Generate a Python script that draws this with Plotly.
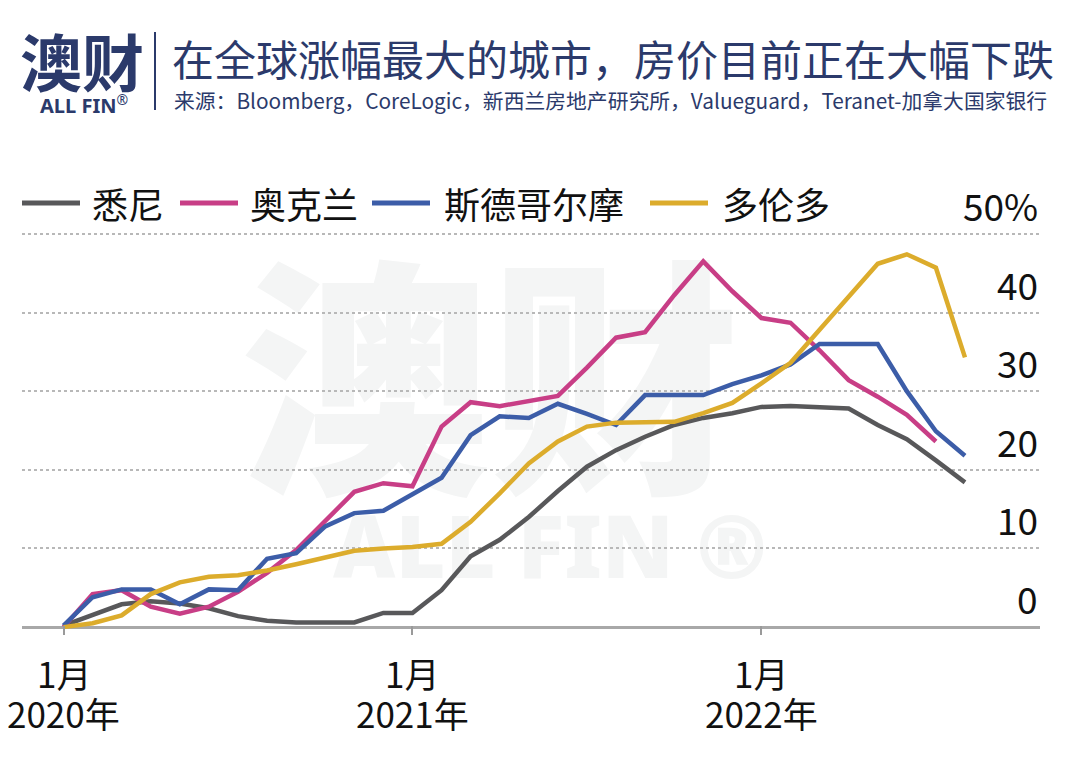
import plotly.graph_objects as go

# ---------------- data ----------------
months = list(range(32))  # month index, 0 = Jan 2020
x_tickvals = [0, 12, 24]
x_tick_month = ["1月", "1月", "1月"]
x_tick_year = ["2020年", "2021年", "2022年"]
y_tickvals = [0, 10, 20, 30, 40, 50]
y_ticktext = ["0", "10", "20", "30", "40", "50%"]

series_names = ["悉尼", "奥克兰", "斯德哥尔摩", "多伦多"]
series_colors = ["#58585a", "#c83e86", "#3c5da8", "#dcac2c"]

sydney = [0.2, 1.6, 2.9, 3.3, 3.0, 2.4, 1.4, 0.8, 0.6, 0.6, 0.6, 1.8, 1.8, 4.7, 9.0,
          11.1, 14.0, 17.3, 20.4, 22.5, 24.2, 25.7, 26.6, 27.2, 28.0, 28.1, 28.0,
          27.8, 25.7, 23.9, 21.2, 18.4]
auckland = [0.0, 4.2, 4.7, 2.6, 1.7, 2.6, 4.5, 6.9, 9.8, 13.6, 17.2, 18.3, 17.9,
            25.5, 28.6, 28.1, 28.7, 29.4, 33.0, 36.8, 37.5, 42.2, 46.5, 42.7, 39.3,
            38.7, 35.2, 31.4, 29.3, 27.0, 23.6]
stockholm = [0.2, 3.8, 4.8, 4.8, 2.9, 4.8, 4.7, 8.7, 9.4, 12.8, 14.5, 14.8, 16.9,
             19.0, 24.4, 26.8, 26.6, 28.4, 27.1, 25.7, 29.5, 29.5, 29.5, 30.9, 32.0,
             33.4, 36.0, 36.0, 36.0, 30.0, 24.9, 21.8]
toronto = [0.0, 0.5, 1.5, 4.2, 5.7, 6.4, 6.6, 7.2, 8.0, 8.8, 9.7, 10.0, 10.2, 10.6,
           13.4, 17.0, 20.8, 23.6, 25.5, 26.0, 26.0, 26.1, 27.2, 28.5, 31.0, 33.6,
           37.8, 42.0, 46.2, 47.4, 45.7, 34.3]
all_series = [sydney, auckland, stockholm, toronto]

title_text = "在全球涨幅最大的城市，房价目前正在大幅下跌"
source_text = "来源：Bloomberg，CoreLogic，新西兰房地产研究所，Valueguard，Teranet-加拿大国家银行"

# ---------------- layout helpers ----------------
OFF = 8                  # page offset of the figure (browser body margin)
W, H = 1080 - OFF, 767 - OFF
L, R = 22, 1040          # plot area left/right in page px
T, B = 226, 635          # plot area top/bottom in page px
CJK = "Noto Sans CJK SC"
NAVY = "#2b3a6b"


def px(xp):
    return (xp - L) / (R - L)


def py(yp):
    return (B - yp) / (B - T)


fig = go.Figure()

for name, vals, col in zip(series_names, all_series, series_colors):
    fig.add_trace(go.Scatter(
        x=months[:len(vals)], y=vals, mode="lines", name=name,
        line=dict(color=col, width=4.5), showlegend=False,
    ))

shapes = []
annotations = []

# watermark (drawn below the data)
shapes.append(dict(type="rect", xref="paper", yref="paper",
                   x0=px(280), x1=px(700), y0=py(548), y1=py(262),
                   line=dict(width=0), fillcolor="rgba(0,0,0,0)", layer="below",
                   label=dict(text="澳财", textposition="middle center",
                              font=dict(family=CJK, size=250, color="#f4f5f5", weight=900))))
shapes.append(dict(type="rect", xref="paper", yref="paper",
                   x0=px(340), x1=px(760), y0=py(595), y1=py(505),
                   line=dict(width=0), fillcolor="rgba(0,0,0,0)", layer="below",
                   label=dict(text="ALL FIN ®", textposition="middle center",
                              font=dict(family="Noto Sans", size=86, color="#f4f5f5", weight=900))))

# custom legend
leg = [(22, 80, 90), (180, 238, 248), (372, 430, 442), (650, 708, 720)]
for (x0, x1, xt), name, col in zip(leg, series_names, series_colors):
    shapes.append(dict(type="line", xref="paper", yref="paper",
                       x0=px(x0), x1=px(x1), y0=py(203), y1=py(203),
                       line=dict(color=col, width=5)))
    annotations.append(dict(text=name, xref="paper", yref="paper",
                            x=px(xt), y=py(203), xanchor="left", yanchor="middle",
                            showarrow=False, font=dict(family=CJK, size=36, color="#111")))

# y tick labels above gridlines, right aligned inside plot
for v, t in zip(y_tickvals, y_ticktext):
    annotations.append(dict(text=t, xref="paper", yref="y", x=1.0, y=v,
                            xanchor="right", yanchor="middle", yshift=29,
                            showarrow=False, font=dict(family=CJK, size=37, color="#111")))

# x tick labels (two lines), placed at the axis tick values
for v, m, yr in zip(x_tickvals, x_tick_month, x_tick_year):
    annotations.append(dict(text=m, xref="x", yref="paper", x=v, y=py(672),
                            xanchor="center", yanchor="middle", showarrow=False,
                            font=dict(family=CJK, size=35, color="#111")))
    annotations.append(dict(text=yr, xref="x", yref="paper", x=v, y=py(712),
                            xanchor="center", yanchor="middle", showarrow=False,
                            font=dict(family=CJK, size=35, color="#111")))

# header: logo, divider, title, source
annotations.append(dict(text="<b>澳财</b>", xref="paper", yref="paper", x=px(18), y=py(60),
                        xanchor="left", yanchor="middle", showarrow=False,
                        font=dict(family=CJK, size=62, color=NAVY, weight=900)))
annotations.append(dict(text="<b>ALL FIN</b><sup>®</sup>", xref="paper", yref="paper", x=px(38), y=py(104),
                        xanchor="left", yanchor="middle", showarrow=False,
                        font=dict(family="Noto Sans", size=20, color=NAVY)))
shapes.append(dict(type="line", xref="paper", yref="paper", x0=px(155), x1=px(155),
                   y0=py(32), y1=py(110), line=dict(color=NAVY, width=2)))
annotations.append(dict(text=title_text, xref="paper", yref="paper", x=px(170), y=py(57),
                        xanchor="left", yanchor="middle", showarrow=False,
                        font=dict(family=CJK, size=42, color=NAVY)))
annotations.append(dict(text=source_text, xref="paper", yref="paper", x=px(172), y=py(100),
                        xanchor="left", yanchor="middle", showarrow=False,
                        font=dict(family=CJK, size=20.8, color=NAVY)))

x_per_month = 29.08
x0_px = 63.5
fig.update_layout(
    width=W, height=H,
    margin=dict(l=L - OFF, r=(W + OFF) - R, t=T - OFF, b=(H + OFF) - B, pad=0),
    paper_bgcolor="white", plot_bgcolor="white",
    shapes=shapes, annotations=annotations,
    xaxis=dict(range=[(L - x0_px) / x_per_month, (R - x0_px) / x_per_month],
               tickvals=x_tickvals, showticklabels=False,
               ticks="inside", ticklen=9, tickwidth=2, tickcolor="#9a9a9a",
               showgrid=False, zeroline=False, showline=False,
               automargin=False),
    yaxis=dict(range=[-1, 51], tickvals=y_tickvals, showticklabels=False,
               showgrid=True, gridcolor="#b8b8b8", gridwidth=1.5, griddash="dot",
               zeroline=True, zerolinecolor="#a8a8a8", zerolinewidth=2.5,
               showline=False, ticks="", automargin=False),
)

fig.write_html("out.html")
